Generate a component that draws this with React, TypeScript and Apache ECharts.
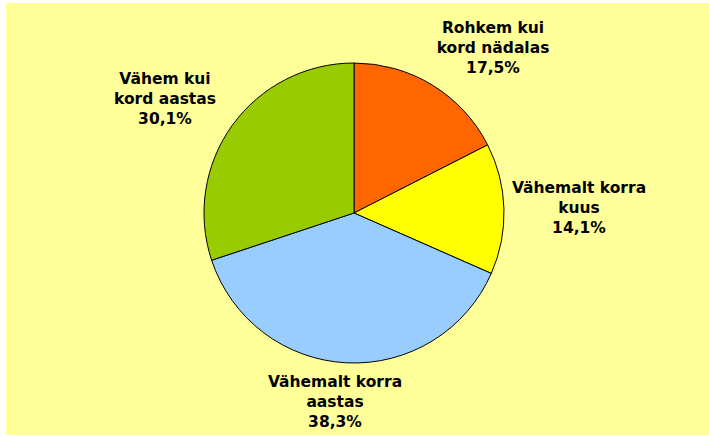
import React, { useEffect, useRef } from "react";
import * as echarts from "echarts";

const categories = [
  "Rohkem kui\nkord nädalas",
  "Vähemalt korra\nkuus",
  "Vähemalt korra\naastas",
  "Vähem kui\nkord aastas",
];
const values = [17.5, 14.1, 38.3, 30.1];
const colors = ["#FF6600", "#FFFF00", "#99CCFF", "#99CC00"];
const labelPos = [
  [493, 48],
  [579, 208],
  [335, 402],
  [165, 99],
];

export default function App() {
  const ref = useRef<HTMLDivElement>(null);
  useEffect(() => {
    if (!ref.current) return;
    const chart = echarts.init(ref.current, null, { renderer: "svg" });
    chart.setOption({
      animation: false,
      backgroundColor: "#FFFFFF",
      graphic: [
        {
          type: "rect",
          shape: { x: 6, y: 3, width: 703, height: 432 },
          style: { fill: "#FFFF99" },
          z: -10,
          silent: true,
        },
      ],
      series: [
        {
          type: "pie",
          center: [354, 213],
          radius: 150,
          startAngle: 90,
          clockwise: true,
          data: categories.map((c, i) => ({
            name: c,
            value: values[i],
            itemStyle: { color: colors[i] },
          })),
          itemStyle: { borderColor: "#000000", borderWidth: 1 },
          label: {
            show: true,
            position: "outside",
            formatter: (p: any) =>
              p.name + "\n" + values[p.dataIndex].toFixed(1).replace(".", ",") + "%",
            fontFamily: "DejaVu Sans",
            fontWeight: "bold",
            fontSize: 15.5,
            lineHeight: 20,
            color: "#000000",
            align: "center",
          },
          labelLine: { show: false },
          labelLayout: (params: any) => {
            const p = labelPos[params.dataIndex];
            return { x: p[0], y: p[1], align: "center", verticalAlign: "middle" };
          },
        },
      ],
    });
    return () => chart.dispose();
  }, []);
  return (
    <div
      ref={ref}
      style={{ position: "fixed", left: 0, top: 0, width: 709, height: 436 }}
    />
  );
}
